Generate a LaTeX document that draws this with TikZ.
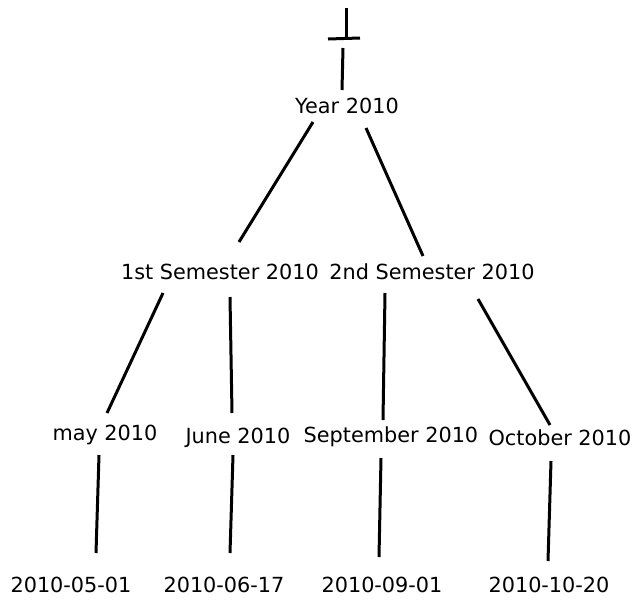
\documentclass[tikz,border=0pt]{standalone}
\usepackage{fontspec}
\setmainfont{DejaVu Sans}
\begin{document}
\begin{tikzpicture}[x=1pt,y=-1pt,
  lbl/.style={inner sep=0pt,font=\fontsize{20.8}{25}\selectfont},
  edge/.style={line width=3pt}]
\useasboundingbox (0,0) rectangle (634,600);
% labels
\node[lbl] (year) at (347,106) {Year 2010};
\node[lbl] (s1) at (220,272) {1st Semester 2010};
\node[lbl] (s2) at (432,272) {2nd Semester 2010};
\node[lbl] (may) at (105,435) {may 2010};
\node[lbl] (jun) at (238,438) {June 2010};
\node[lbl] (sep) at (391,437) {September 2010};
\node[lbl] (oct) at (560,438) {October 2010};
\node[lbl] (d1) at (71,585) {2010-05-01};
\node[lbl] (d2) at (224,585) {2010-06-17};
\node[lbl] (d3) at (382,585) {2010-09-01};
\node[lbl] (d4) at (549,585) {2010-10-20};
% connector end points
\coordinate (t0) at (346,8);
\coordinate (t1) at (346,38);
\coordinate (tl) at (328,39);
\coordinate (tr) at (360,38);
\coordinate (ya) at (343,48);
\coordinate (yb) at (342,90);
\coordinate (y1a) at (313,122);
\coordinate (y1b) at (239,242);
\coordinate (y2a) at (366,128);
\coordinate (y2b) at (423,256);
\coordinate (s1ma) at (163,293);
\coordinate (s1mb) at (107,413);
\coordinate (s1ja) at (230,297);
\coordinate (s1jb) at (232,413);
\coordinate (s2sa) at (385,293);
\coordinate (s2sb) at (383,420);
\coordinate (s2oa) at (478,299);
\coordinate (s2ob) at (550,425);
\coordinate (m1a) at (99,455);
\coordinate (m1b) at (96,553);
\coordinate (j2a) at (233,455);
\coordinate (j2b) at (230,553);
\coordinate (s3a) at (381,458);
\coordinate (s3b) at (379,557);
\coordinate (o4a) at (551,461);
\coordinate (o4b) at (548,561);
% connectors
\draw[edge] (t0) -- (t1);
\draw[edge] (tl) -- (tr);
\draw[edge] (ya) -- (yb);
\draw[edge] (y1a) -- (y1b);
\draw[edge] (y2a) -- (y2b);
\draw[edge] (s1ma) -- (s1mb);
\draw[edge] (s1ja) -- (s1jb);
\draw[edge] (s2sa) -- (s2sb);
\draw[edge] (s2oa) -- (s2ob);
\draw[edge] (m1a) -- (m1b);
\draw[edge] (j2a) -- (j2b);
\draw[edge] (s3a) -- (s3b);
\draw[edge] (o4a) -- (o4b);
\end{tikzpicture}
\end{document}
